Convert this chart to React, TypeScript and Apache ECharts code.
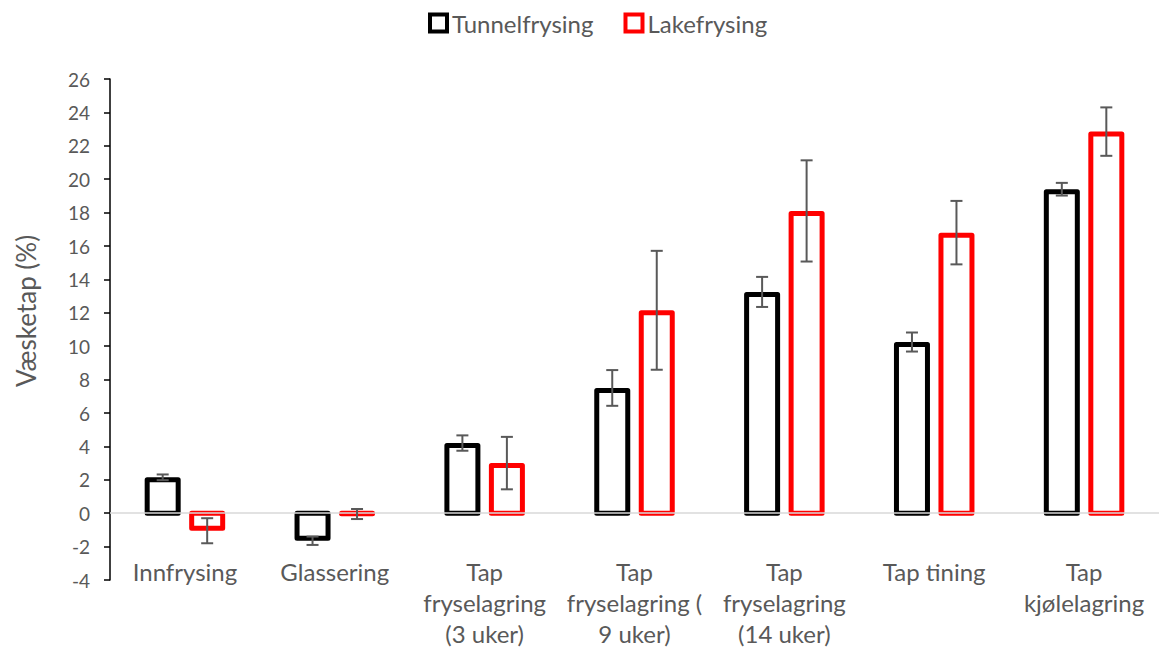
import React, { useEffect, useRef } from "react";
import * as echarts from "echarts";

const categories = [
  "Innfrysing",
  "Glassering",
  "Tap\nfryselagring\n(3 uker)",
  "Tap\nfryselagring (\n9 uker)",
  "Tap\nfryselagring\n(14 uker)",
  "Tap tining",
  "Tap\nkjølelagring",
];
const seriesNames = ["Tunnelfrysing", "Lakefrysing"];
const seriesColors = ["#000000", "#ff0000"];
const tunnelValues = [2.15, -1.65, 4.2, 7.5, 13.25, 10.25, 19.4];
const tunnelErrors = [0.17, 0.25, 0.46, 1.07, 0.9, 0.57, 0.38];
const lakeValues = [-1.05, -0.05, 3.0, 12.15, 18.1, 16.8, 22.85];
const lakeErrors = [0.75, 0.3, 1.57, 3.56, 3.03, 1.9, 1.45];
const yTicks = { min: -4, max: 26, interval: 2 };
const yAxisTitle = "Væsketap (%)";

const FONT = "Lato";
const GRAY = "#595959";
const BAR_W = 31;
const BAR_GAP_PX = 13.5;
const BORDER = 5;

function barSeries(name: string, color: string, values: number[], offsetSign: number) {
  return {
    name,
    type: "custom",
    z: 2,
    itemStyle: { color: "#fff", borderColor: color, borderWidth: 4 },
    data: values.map((v, i) => [i, v]),
    encode: { x: 0, y: 1 },
    renderItem: (params: any, api: any) => {
      const idx = api.value(0);
      const v = api.value(1);
      const p0 = api.coord([idx, 0]);
      const p1 = api.coord([idx, v]);
      const xc = p0[0] + (offsetSign * (BAR_W + BAR_GAP_PX)) / 2;
      let yTop: number;
      let yBot: number;
      if (v >= 0) {
        yTop = Math.min(p1[1] + BORDER / 2, p0[1] - 0.5);
        yBot = p0[1];
      } else {
        yTop = p0[1];
        yBot = Math.max(p1[1] - BORDER / 2, p0[1] + 0.5);
      }
      return {
        type: "rect",
        shape: { x: xc - BAR_W / 2, y: yTop, width: BAR_W, height: yBot - yTop },
        style: { fill: "#fff", stroke: color, lineWidth: BORDER, lineJoin: "round" },
      };
    },
  };
}

function errorSeries(values: number[], errors: number[], offsetSign: number) {
  const data = values.map((v, i) => [i, v - errors[i], v + errors[i]]);
  return {
    type: "custom",
    silent: true,
    z: 10,
    data,
    encode: { x: 0, y: [1, 2] },
    renderItem: (params: any, api: any) => {
      const idx = api.value(0);
      const lo = api.coord([idx, api.value(1)]);
      const hi = api.coord([idx, api.value(2)]);
      const x = lo[0] + (offsetSign * (BAR_W + BAR_GAP_PX)) / 2;
      const cap = 6;
      const style = { stroke: "#595959", lineWidth: 2 };
      return {
        type: "group",
        children: [
          { type: "line", shape: { x1: x, y1: lo[1], x2: x, y2: hi[1] }, style },
          { type: "line", shape: { x1: x - cap, y1: lo[1], x2: x + cap, y2: lo[1] }, style },
          { type: "line", shape: { x1: x - cap, y1: hi[1], x2: x + cap, y2: hi[1] }, style },
        ],
      };
    },
  };
}

export default function App() {
  const ref = useRef<HTMLDivElement>(null);
  useEffect(() => {
    if (!ref.current) return;
    const chart = echarts.init(ref.current, undefined, { renderer: "svg" });
    chart.setOption({
      animation: false,
      textStyle: { fontFamily: FONT },
      legend: {
        top: 6,
        left: 423,
        itemGap: 30,
        itemWidth: 17,
        itemHeight: 17,
        icon: "rect",
        textStyle: { fontFamily: FONT, fontSize: 24, color: GRAY },
        data: seriesNames.map((n, i) => ({
          name: n,
          itemStyle: { color: "#fff", borderColor: seriesColors[i], borderWidth: 4 },
        })),
      },
      graphic: [
        {
          type: "text",
          x: 26,
          y: 311,
          rotation: Math.PI / 2,
          style: {
            text: yAxisTitle,
            fontFamily: FONT,
            fontSize: 26,
            fill: GRAY,
            align: "center",
            verticalAlign: "middle",
          },
        },
      ],
      grid: { left: 110, top: 79, width: 1052, height: 501, containLabel: false },
      xAxis: {
        type: "category",
        data: categories,
        axisLine: { show: false },
        axisTick: { show: false },
        axisLabel: {
          interval: 0,
          margin: -24,
          fontFamily: FONT,
          fontSize: 24,
          color: GRAY,
          lineHeight: 31,
          verticalAlign: "top",
        },
      },
      yAxis: {
        type: "value",
        min: yTicks.min,
        max: yTicks.max,
        interval: yTicks.interval,
        axisLine: { show: true, lineStyle: { color: "#000", width: 1.5 } },
        axisTick: { show: true, length: 6, lineStyle: { color: "#000", width: 1.5 } },
        splitLine: { show: false },
        axisLabel: { fontFamily: FONT, fontSize: 19, color: GRAY, margin: 20 },
      },
      series: [
        {
          type: "line",
          data: [],
          silent: true,
          markLine: {
            silent: true,
            symbol: "none",
            label: { show: false },
            lineStyle: { color: "#d9d9d9", width: 1.5, type: "solid" },
            data: [{ yAxis: 0 }],
          },
          z: 1,
        },
        barSeries(seriesNames[0], seriesColors[0], tunnelValues, -1),
        barSeries(seriesNames[1], seriesColors[1], lakeValues, 1),
        errorSeries(tunnelValues, tunnelErrors, -1),
        errorSeries(lakeValues, lakeErrors, 1),
      ],
    });
    return () => chart.dispose();
  }, []);
  return <div ref={ref} style={{ width: 1159, height: 651, position: "absolute", left: 0, top: 0 }} />;
}
